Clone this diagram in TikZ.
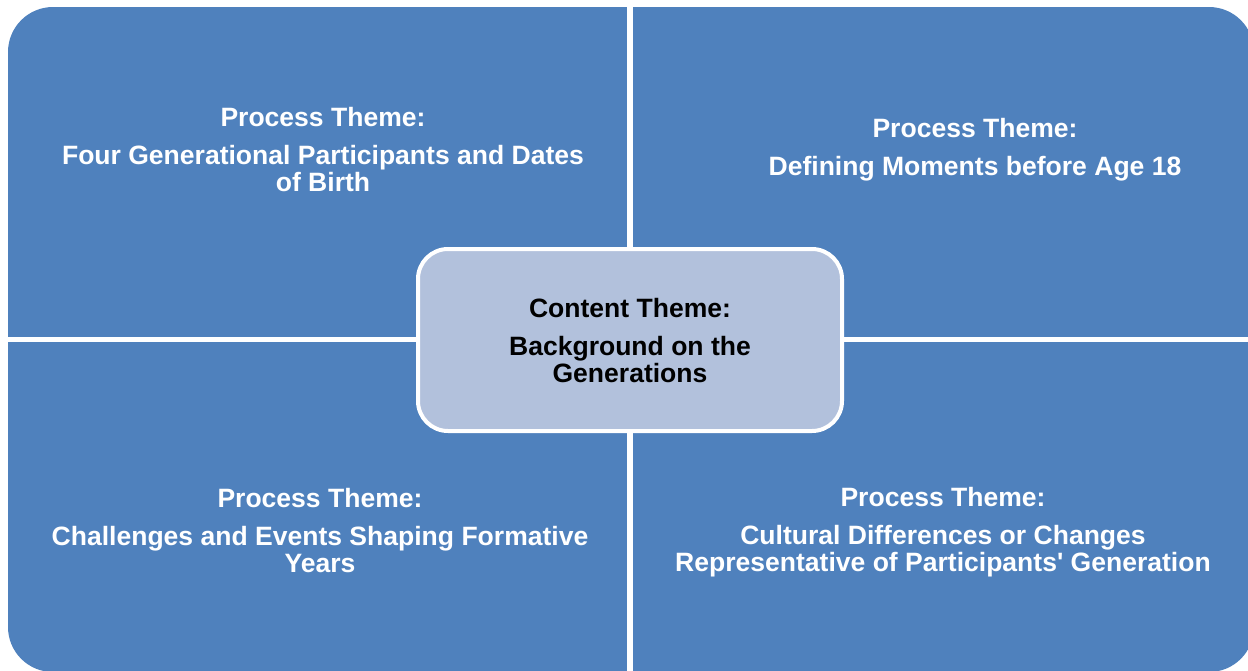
\documentclass[tikz,border=0pt]{standalone}
\usepackage{fontspec}
\setmainfont{Liberation Sans}
\usepackage{xcolor}
\usetikzlibrary{positioning}
\definecolor{themeblue}{RGB}{79,129,189}
\definecolor{themelight}{RGB}{178,193,220}
\tikzset{
    quadrant/.style={
        fill=themeblue,
        rounded corners=0.9cm
    },
    gap/.style={
        draw=white,
        line width=0.11cm
    },
    content/.style={
        fill=themelight,
        draw=white,
        line width=0.08cm,
        rounded corners=0.6cm
    },
    processtext/.style={
        align=center,
        text=white,
        font=\fontsize{15.1}{15.5}\selectfont\bfseries
    },
    contenttext/.style={
        align=center,
        text=black,
        font=\fontsize{15.1}{15.5}\selectfont\bfseries
    }
}

\begin{document}
\begin{tikzpicture}[x=0.02cm, y=-0.02cm]

\useasboundingbox (0,0) rectangle (1248,670);

% Quadrants
\fill[quadrant] (8,7) rectangle (1254,672);
\draw[gap] (630,0) -- (630,672);
\draw[gap] (0,339.5) -- (1254,339.5);

% Content theme box
\draw[content] (418,249) rectangle (842,431);

% Process themes
\node[processtext] (proc_tl) at (323,149.5) {Process Theme:\\[6.3pt]
Four Generational Participants and Dates\\of Birth};
\node[processtext] (proc_tr) at (975,150) {Process Theme:\\[6.3pt]
Defining Moments before Age 18};
\node[processtext] (proc_bl) at (320,530.5) {Process Theme:\\[6.3pt]
Challenges and Events Shaping Formative\\Years};
\node[processtext] (proc_br) at (943,532) {Process Theme:\\[6.3pt]
Cultural Differences or Changes\\Representative of Participants\textquotesingle\ Generation};

% Content theme
\node[contenttext] (content) at (630,340.5) {Content Theme:\\[6.3pt]
Background on the\\Generations};

\end{tikzpicture}
\end{document}
